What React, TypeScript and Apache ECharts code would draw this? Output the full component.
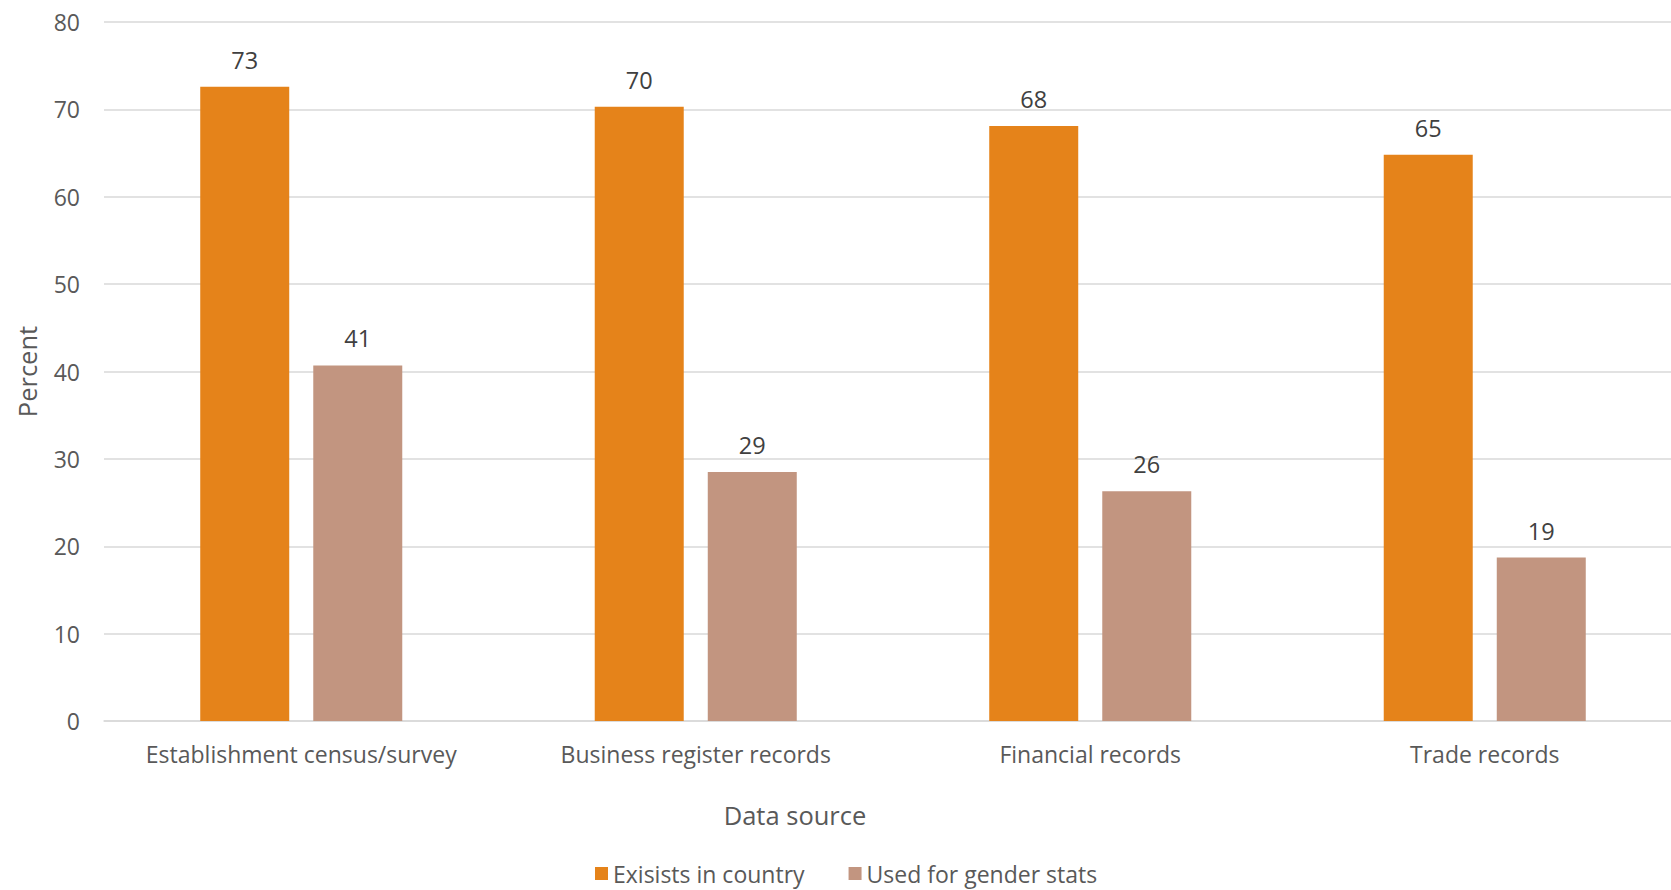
import React, { useEffect, useRef } from "react";
import * as echarts from "echarts";

const categories = [
  "Establishment census/survey",
  "Business register records",
  "Financial records",
  "Trade records",
];
const existsInCountry = [72.6, 70.3, 68.1, 64.8];
const usedForGenderStats = [40.7, 28.5, 26.3, 18.7];
const seriesNames = ["Exisists in country", "Used for gender stats"];
const yTicks = { min: 0, max: 80, interval: 10 };
const xAxisTitle = "Data source";
const yAxisTitle = "Percent";

const FONT = "'Open Sans', 'Noto Sans', sans-serif";

export default function App() {
  const ref = useRef<HTMLDivElement>(null);
  useEffect(() => {
    document.body.style.margin = "0";
    const chart = echarts.init(ref.current!, null, { renderer: "svg" });
    const label = {
      show: true,
      position: "top",
      distance: 15,
      color: "#404040",
      fontSize: 23.5,
      fontFamily: FONT,
      formatter: (p: any) => String(Math.round(p.value)),
    };
    chart.setOption({
      animation: false,
      textStyle: { fontFamily: FONT },
      grid: {
        left: 104,
        width: 1578,
        top: 22,
        height: 699,
        containLabel: false,
        outerBoundsMode: "none",
      },
      legend: {
        bottom: 0,
        left: 590,
        itemWidth: 13,
        itemHeight: 13,
        itemGap: 44,
        icon: "rect",
        textStyle: { color: "#595959", fontSize: 23, fontFamily: FONT },
        data: seriesNames,
      },
      graphic: [
        {
          type: "text",
          x: 795,
          y: 815,
          style: {
            text: xAxisTitle,
            textAlign: "center",
            textVerticalAlign: "middle",
            fontSize: 25.5,
            fontFamily: FONT,
            fill: "#595959",
          },
        },
      ],
      xAxis: {
        type: "category",
        data: categories,
        axisTick: { show: false },
        axisLine: { lineStyle: { color: "#d9d9d9", width: 1.5 } },
        axisLabel: {
          color: "#595959",
          fontSize: 23,
          margin: 21,
          interval: 0,
          fontFamily: FONT,
        },
      },
      yAxis: {
        type: "value",
        min: yTicks.min,
        max: yTicks.max,
        interval: yTicks.interval,
        axisLine: { show: false },
        axisTick: { show: false },
        splitLine: { lineStyle: { color: "#d9d9d9", width: 1.5 } },
        axisLabel: { color: "#595959", fontSize: 23, margin: 24, fontFamily: FONT },
        name: yAxisTitle,
        nameLocation: "middle",
        nameGap: 64,
        nameRotate: 90,
        nameTextStyle: { color: "#595959", fontSize: 25.5, fontFamily: FONT },
      },
      series: [
        {
          name: seriesNames[0],
          type: "bar",
          data: existsInCountry,
          barWidth: 89,
          barGap: "27%",
          itemStyle: { color: "#E5831A" },
          label,
        },
        {
          name: seriesNames[1],
          type: "bar",
          data: usedForGenderStats,
          barWidth: 89,
          itemStyle: { color: "#C29580" },
          label,
        },
      ],
    });
    return () => chart.dispose();
  }, []);
  return <div ref={ref} style={{ width: 1671, height: 890 }} />;
}
